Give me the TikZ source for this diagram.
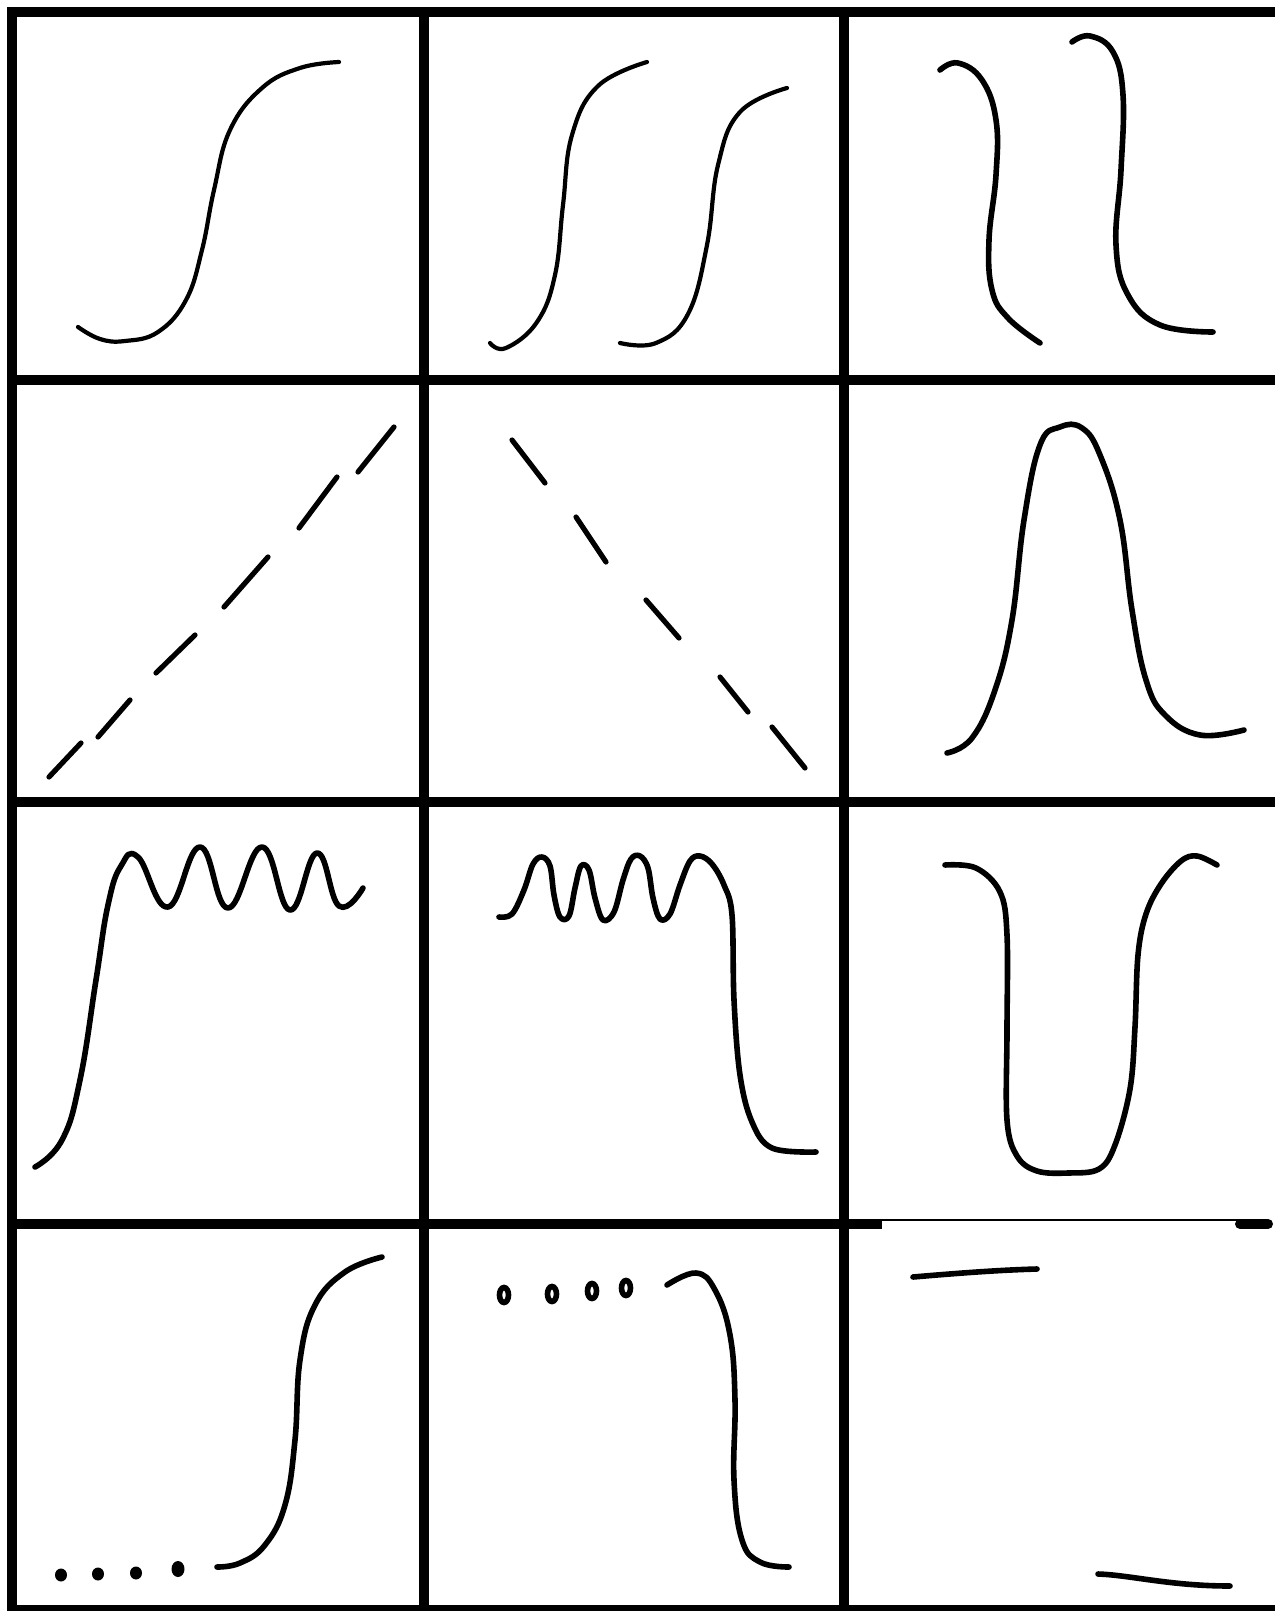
\documentclass[tikz,border=0pt]{standalone}
\begin{document}
\begin{tikzpicture}[x=0.5pt,y=-0.5pt,
  gridline/.style={line width=5pt},
  curvepen/.style={line width=2.8pt,line cap=round,line join=round},
  finepen/.style={line width=2.1pt,line cap=round,line join=round},
  dashseg/.style={line width=2.6pt,line cap=round}]
\useasboundingbox (0,0) rectangle (1275,1611);
\fill[white] (0,0) rectangle (1275,1611);
% grid
\draw[gridline] (7,12) -- (1275,12);
\draw[gridline] (12,7) -- (12,1611);
\draw[gridline] (424,7) -- (424,1611);
\draw[gridline] (844,7) -- (844,1611);
\draw[gridline] (7,380) -- (1275,380);
\draw[gridline] (7,802) -- (1275,802);
\draw[gridline] (7,1224) -- (882,1224);
\draw[line width=0.8pt] (882,1220) -- (1240,1220);
\draw[gridline,line cap=round] (1240,1224) -- (1268,1224);
\draw[line width=3pt] (7,1608) -- (1275,1608);
% row 1
\draw[finepen] plot[smooth,tension=0.7] coordinates {(78,327) (100,339) (125,341) (158,332) (186,300) (202,250) (214,190) (230,130) (262,88) (300,68) (339,62)};
\draw[finepen] plot[smooth,tension=0.7] coordinates {(490,343) (506,348) (537,322) (555,275) (563,205) (572,135) (598,86) (647,62)};
\draw[finepen] plot[smooth,tension=0.7] coordinates {(620,343) (656,343) (688,314) (707,245) (718,165) (740,112) (787,88)};
\draw[curvepen] plot[smooth,tension=0.7] coordinates {(940,70) (958,63) (982,80) (996,120) (996,175) (989,240) (992,290) (1008,318) (1040,343)};
\draw[curvepen] plot[smooth,tension=0.7] coordinates {(1072,42) (1090,36) (1113,52) (1123,95) (1121,170) (1116,245) (1128,295) (1160,325) (1213,332)};
% row 2
\draw[dashseg] (49,777) -- (81,743);
\draw[dashseg] (98,737) -- (130,700);
\draw[dashseg] (156,673) -- (195,635);
\draw[dashseg] (224,607) -- (268,557);
\draw[dashseg] (299,528) -- (337,477);
\draw[dashseg] (358,472) -- (394,427);
\draw[dashseg] (512,440) -- (545,483);
\draw[dashseg] (576,517) -- (606,562);
\draw[dashseg] (646,600) -- (679,638);
\draw[dashseg] (720,677) -- (748,712);
\draw[dashseg] (772,727) -- (805,768);
\draw[curvepen] plot[smooth,tension=0.7] coordinates {(947,753) (972,738) (995,690) (1012,620) (1024,520) (1040,445) (1060,427) (1082,428) (1100,455) (1120,520) (1132,610) (1146,680) (1165,715) (1200,735) (1244,730)};
% row 3
\draw[curvepen] plot[smooth,tension=0.75] coordinates {(35,1167) (62,1140) (80,1080) (96,980) (108,905) (121,866) (138,857) (168,907) (200,847) (228,908) (262,847) (290,910) (317,853) (339,906) (363,888)};
\draw[curvepen] plot[smooth,tension=0.6] coordinates {(499,917) (512,914) (524,890) (533,864) (542,857) (550,866) (554,895) (560,917) (569,916) (575,888) (581,866) (589,870) (595,898) (603,920) (614,912) (623,880) (631,859) (640,856) (648,868) (653,898) (660,919) (670,914) (680,885) (690,861) (700,856) (712,864) (724,885) (732,915) (734,1000) (740,1075) (752,1122) (772,1148) (816,1152)};
\draw[curvepen] plot[smooth,tension=0.6] coordinates {(945,865) (976,868) (1000,892) (1007,935) (1007,1030) (1007,1120) (1017,1156) (1037,1171) (1068,1173) (1099,1169) (1115,1145) (1130,1089) (1135,1027) (1138,955) (1146,914) (1161,884) (1181,861) (1197,856) (1217,865)};
% row 4
\foreach \p in {(61,1575),(98,1574),(136,1573)} \fill \p ellipse [x radius=6, y radius=6.5];
\fill (178,1569) ellipse [x radius=6.5, y radius=8];
\draw[curvepen] plot[smooth,tension=0.7] coordinates {(217,1567) (240,1563) (265,1545) (285,1505) (295,1440) (300,1360) (315,1305) (345,1272) (382,1257)};
\foreach \p in {(504,1295),(552,1294),(592,1291),(626,1288)} \draw[line width=2.8pt,fill=white] \p ellipse [x radius=4.5, y radius=7.5];
\draw[curvepen] plot[smooth,tension=0.7] coordinates {(667,1285) (696,1273) (715,1290) (730,1335) (735,1400) (734,1480) (742,1540) (760,1562) (789,1567)};
\draw[curvepen] (913,1277) .. controls (960,1273) and (1000,1270) .. (1037,1269);
\draw[curvepen] (1098,1574) .. controls (1130,1575) and (1170,1586) .. (1230,1586);
\end{tikzpicture}
\end{document}
